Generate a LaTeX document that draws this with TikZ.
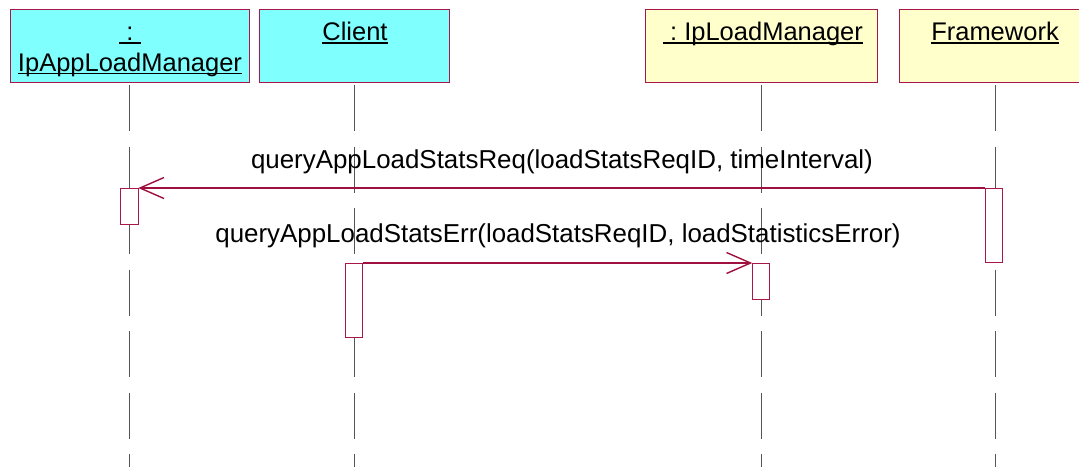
\documentclass[tikz,border=0pt]{standalone}
\usepackage{fontspec}
\setmainfont{Liberation Sans}
\usetikzlibrary{arrows.meta}
\definecolor{cyanfill}{HTML}{80FFFF}
\definecolor{yelfill}{HTML}{FFFFCC}
\definecolor{umlred}{HTML}{A8164A}
\definecolor{msgred}{HTML}{A0103F}
\definecolor{lifegray}{HTML}{555555}
\newcommand\ulx[1]{\sbox0{#1}\rlap{\rule[-3.2pt]{\wd0}{1.4pt}}\usebox0}
\begin{document}
\begin{tikzpicture}[x=1pt,y=-1pt,
  objbox/.style={draw=umlred, line width=1pt, minimum height=73pt, inner sep=0pt, outer sep=0pt, anchor=north west},
  txt/.style={font=\fontsize{25.5}{31}\selectfont, inner sep=0pt, anchor=base},
  msgtxt/.style={font=\fontsize{25.9}{31}\selectfont, inner sep=0pt, anchor=base},
  lifeline/.style={draw=lifegray, line width=1pt, dash pattern=on 46pt off 15.5pt},
  act/.style={draw=umlred, fill=white, line width=1pt, minimum width=17.5pt, inner sep=0pt, outer sep=0pt, anchor=north},
  msg/.style={draw=msgred, line width=1.1pt, -{Straight Barb[length=24pt, width=21pt, line width=1.4pt]}}
]
\useasboundingbox (0,0) rectangle (1079,466);
\clip (0,0) rectangle (1079,466);
\fill[white] (0,0) rectangle (1079,466);

% object boxes
\node[objbox, fill=cyanfill, minimum width=239pt] (b1) at (10,9) {};
\node[objbox, fill=cyanfill, minimum width=190pt] (b2) at (259,9) {};
\node[objbox, fill=yelfill, minimum width=232pt] (b3) at (645,9) {};
\node[objbox, fill=yelfill, minimum width=192pt] (b4) at (899,9) {};

% object names
\node[txt] (t1a) at (130,40.6) {\ulx{\ :\ }};
\node[txt] (t1b) at (130,71.2) {\ulx{IpAppLoadManager}};
\node[txt] (t2) at (355,40.6) {\ulx{Client}};
\node[txt] (t3) at (763,40.6) {\ulx{\ :\ IpLoadManager}};
\node[txt] (t4) at (995,40.6) {\ulx{Framework}};

% lifeline ends
\coordinate (e1) at (b1.south |- 0,470);
\coordinate (e2) at (b2.south |- 0,470);
\coordinate (e3) at (b3.south |- 0,470);
\coordinate (e4) at (b4.south |- 0,470);
\draw[lifeline] ([yshift=-3pt]b1.south) -- (e1);
\draw[lifeline] ([yshift=-3pt]b2.south) -- (e2);
\draw[lifeline] ([yshift=-3pt]b3.south) -- (e3);
\draw[lifeline] ([yshift=-3pt]b4.south) -- (e4);

% activations
\node[act, minimum height=36pt] (a1) at (129.5,188) {};
\node[act, minimum height=74.5pt] (a4) at (994,188) {};
\node[act, minimum height=74.5pt] (a2) at (354,263) {};
\node[act, minimum height=36pt] (a3) at (761,263) {};

% messages
\draw[msg] (a4.north west) -- (a1.north east);
\draw[msg] (a2.north east) -- (a3.north west);

\node[msgtxt] (m1) at (562,168.3) {queryAppLoadStatsReq(loadStatsReqID, timeInterval)};
\node[msgtxt] (m2) at (558,242) {queryAppLoadStatsErr(loadStatsReqID, loadStatisticsError)};
\end{tikzpicture}
\end{document}
